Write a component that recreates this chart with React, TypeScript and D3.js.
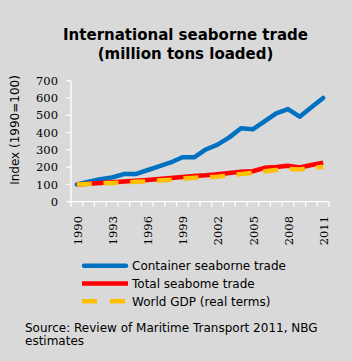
import { line, scaleLinear, scalePoint, select } from "d3";
import { useEffect, useRef } from "react";

// index values, 1990 = 100
const years = [
    "1990", "1991", "1992", "1993", "1994", "1995", "1996", "1997", "1998", "1999", "2000",
    "2001", "2002", "2003", "2004", "2005", "2006", "2007", "2008", "2009", "2010", "2011",
];
const container = [100, 115, 130, 140, 160, 160, 182, 205, 227, 257, 257, 302, 330, 372, 425, 419, 465, 511, 536, 492, 546, 600];
const total = [100, 104, 108, 112, 117, 121, 126, 131, 137, 143, 149, 153, 159, 166, 173, 176, 196, 201, 208, 198, 212, 226];
const gdp = [100, 103, 106, 108, 111, 115, 118, 122, 127, 134, 139, 141, 145, 152, 160, 166, 176, 183, 189, 187, 195, 202];
const yTicks = [0, 100, 200, 300, 400, 500, 600, 700];
const xLabels = ["1990", "1993", "1996", "1999", "2002", "2005", "2008", "2011"];

const legendItems = [
    { name: "Container seaborne trade", color: "#0070C0", dash: null, cap: "round" },
    { name: "Total seabome trade", color: "#FF0000", dash: null, cap: "butt" },
    { name: "World GDP (real terms)", color: "#FFC000", dash: "15,13", cap: "butt" },
];

export default function App() {
    const ref = useRef<SVGSVGElement>(null);

    useEffect(() => {
        const svg = select(ref.current);
        svg.selectAll("*").remove();

        const left = 71, right = 329, top = 80.7, bottom = 201.7;
        const x = scalePoint<string>().domain(years).range([left, right]).padding(0.5);
        const step = x.step();
        const y = scaleLinear().domain([0, 700]).range([bottom, top]);

        svg.append("rect").attr("width", 352).attr("height", 361).attr("fill", "#D9D9D9");

        // title
        const title = svg.append("text")
            .attr("text-anchor", "middle")
            .attr("font-family", "DejaVu Sans")
            .attr("font-weight", "bold")
            .attr("font-size", 15)
            .attr("fill", "#000");
        title.append("tspan").attr("x", 185.5).attr("y", 40).text("International seaborne trade");
        title.append("tspan").attr("x", 185.5).attr("y", 59).text("(million tons loaded)");

        // y axis
        const axis = svg.append("g").attr("stroke", "#fff").attr("stroke-width", 1.3);
        axis.append("line").attr("x1", left).attr("x2", left).attr("y1", top).attr("y2", bottom);
        axis.selectAll("line.yt").data(yTicks).join("line")
            .attr("class", "yt")
            .attr("x1", left - 4.5).attr("x2", left)
            .attr("y1", d => y(d)).attr("y2", d => y(d));
        svg.append("g").selectAll("text").data(yTicks).join("text")
            .attr("x", 58)
            .attr("y", d => y(d))
            .attr("dy", "0.36em")
            .attr("text-anchor", "end")
            .attr("font-family", "DejaVu Serif")
            .attr("font-size", 11.5)
            .text(d => d);

        // x axis
        axis.append("line").attr("x1", left).attr("x2", right).attr("y1", bottom).attr("y2", bottom);
        axis.selectAll("line.xt").data([...years.map(d => x(d)! - step / 2), right]).join("line")
            .attr("class", "xt")
            .attr("x1", d => d).attr("x2", d => d)
            .attr("y1", bottom).attr("y2", bottom + 5);
        svg.append("g").selectAll("text").data(xLabels).join("text")
            .attr("transform", d => `translate(${x(d)! + 0.6}, 216) rotate(-90)`)
            .attr("dy", "0.36em")
            .attr("text-anchor", "end")
            .attr("font-family", "DejaVu Serif")
            .attr("font-size", 11.5)
            .text(d => d);

        svg.append("text")
            .attr("transform", "translate(15, 130) rotate(-90)")
            .attr("dy", "0.36em")
            .attr("text-anchor", "middle")
            .attr("font-family", "DejaVu Sans")
            .attr("font-size", 12)
            .text("Index (1990=100)");

        // series
        const l = line<number>().x((_, i) => x(years[i])!).y(d => y(d));
        [container, total, gdp].forEach((s, i) => {
            const it = legendItems[i];
            svg.append("path")
                .datum(s)
                .attr("d", l)
                .attr("fill", "none")
                .attr("stroke", it.color)
                .attr("stroke-width", 4.5)
                .attr("stroke-linejoin", "round")
                .attr("stroke-linecap", i == 0 ? "round" : "butt")
                .attr("stroke-dasharray", i == 2 ? "15,11.7" : null);
        });

        // legend
        const leg = svg.append("g");
        legendItems.forEach((it, i) => {
            const ly = 265.7 + i * 17.8;
            leg.append("line")
                .attr("x1", it.cap == "round" ? 84 : 82).attr("x2", it.cap == "round" ? 126 : 128)
                .attr("y1", ly).attr("y2", ly)
                .attr("stroke", it.color)
                .attr("stroke-width", 4.5)
                .attr("stroke-linecap", it.cap)
                .attr("stroke-dasharray", it.dash);
            leg.append("text")
                .attr("x", 132).attr("y", ly + 4.5)
                .attr("font-family", "DejaVu Sans")
                .attr("font-size", 12)
                .text(it.name);
        });

        // source note
        const src = svg.append("text").attr("font-family", "DejaVu Sans").attr("font-size", 12);
        src.append("tspan").attr("x", 25).attr("y", 331.5).text("Source: Review of Maritime Transport 2011, NBG");
        src.append("tspan").attr("x", 25).attr("y", 345).text("estimates");
    }, []);

    return (
        <div style={{ position: "absolute", left: 0, top: 0 }}>
            <svg ref={ref} width={352} height={361} style={{ display: "block" }}></svg>
        </div>
    );
}
